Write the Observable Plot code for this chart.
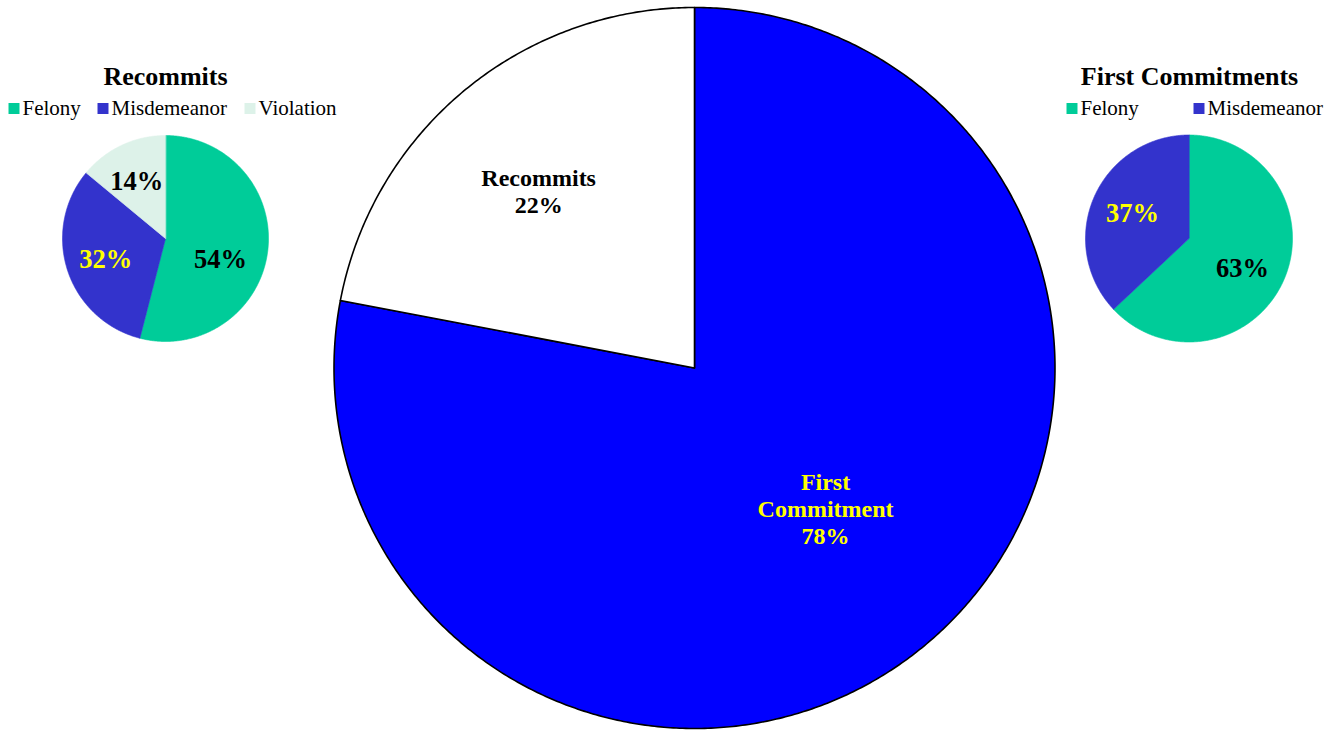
<!DOCTYPE html>
<html><head><meta charset="utf-8">
<script src="https://cdn.jsdelivr.net/npm/d3@7"></script>
<script src="https://cdn.jsdelivr.net/npm/@observablehq/plot@0.6"></script>
<style>body{margin:0;background:#fff} #chart{width:1340px;height:730px}</style>
</head><body><div id="chart"></div>
<script>
// ---- data ----
const mainCategories = ["First Commitment", "Recommits"];
const mainValues = [78, 22];
const recommitCategories = ["Felony", "Misdemeanor", "Violation"];
const recommitValues = [54, 32, 14];
const firstCategories = ["Felony", "Misdemeanor"];
const firstValues = [63, 37];
const recommitTitle = "Recommits";
const firstTitle = "First Commitments";

// ---- styles / layout ----
const FONT = "'Liberation Serif', 'Times New Roman', serif";
const mainColors = {"First Commitment": "#0000FF", "Recommits": "#FFFFFF"};
const mainLabelColors = {"First Commitment": "#FFFF00", "Recommits": "#000000"};
const typeColors = {Felony: "#00CC99", Misdemeanor: "#3333CC", Violation: "#DDF2E9"};
const typeLabelColors = {Felony: "#000000", Misdemeanor: "#FFFF00", Violation: "#000000"};

// label placement: fraction of radius, and angular nudge (degrees) from slice mid-angle
const pies = [
  {name: "main", cats: mainCategories, vals: mainValues, cx: 694, cy: 367.5, r: 360.5,
   colors: mainColors, labelColors: mainLabelColors, stroke: "#000", strokeWidth: 1.6,
   labelR: {"First Commitment": 0.533, "Recommits": 0.655},
   labelShift: {"First Commitment": -3.4, "Recommits": -1.7}, fontSize: 24, showName: true},
  {name: "rec", cats: recommitCategories, vals: recommitValues, cx: 165, cy: 238, r: 103,
   colors: typeColors, labelColors: typeLabelColors, stroke: null, strokeWidth: 0.6,
   labelR: {Felony: 0.568, Misdemeanor: 0.61, Violation: 0.63},
   labelShift: {Felony: 12.8, Misdemeanor: 0, Violation: -1}, fontSize: 26.5, showName: false},
  {name: "first", cats: firstCategories, vals: firstValues, cx: 1188.5, cy: 238, r: 103.5,
   colors: typeColors, labelColors: typeLabelColors, stroke: null, strokeWidth: 0.6,
   labelR: {Felony: 0.588, Misdemeanor: 0.60},
   labelShift: {Felony: 5, Misdemeanor: 1.3}, fontSize: 26.5, showName: false}
];

const polys = [];
const labels = [];
for (const p of pies) {
  const arcs = d3.pie().sort(null).value(d => d)(p.vals);
  arcs.forEach((a, i) => {
    const cat = p.cats[i];
    const id = p.name + ":" + cat;
    const fill = p.colors[cat];
    const stroke = p.stroke || fill;
    polys.push({id, x: p.cx, y: p.cy, fill, stroke});
    const n = Math.max(2, Math.ceil((a.endAngle - a.startAngle) / (Math.PI / 360)));
    for (let k = 0; k <= n; k++) {
      const t = a.startAngle + (a.endAngle - a.startAngle) * k / n;
      polys.push({id, x: p.cx + p.r * Math.sin(t), y: p.cy - p.r * Math.cos(t), fill, stroke});
    }
    const mid = (a.startAngle + a.endAngle) / 2 + (p.labelShift[cat] || 0) * Math.PI / 180;
    const lr = p.r * p.labelR[cat];
    labels.push({
      x: p.cx + lr * Math.sin(mid), y: p.cy - lr * Math.cos(mid),
      text: (p.showName ? cat.replace(" ", "\n") + "\n" : "") + p.vals[i] + "%",
      color: p.labelColors[cat], size: p.fontSize
    });
  });
}

const titles = [
  {x: 165, y: 76, text: recommitTitle},
  {x: 1189, y: 76, text: firstTitle}
];
const legendItems = [
  ...recommitCategories.map((c, i) => ({cat: c, x: [13.5, 102.5, 249.5][i], y: 108})),
  ...firstCategories.map((c, i) => ({cat: c, x: [1071.5, 1198.5][i], y: 108}))
];

const chart = Plot.plot({
  width: 1340, height: 730, margin: 0,
  x: {domain: [0, 1340], range: [0, 1340], axis: null},
  y: {domain: [0, 730], range: [0, 730], axis: null},
  style: {fontFamily: FONT, background: "#fff"},
  marks: [
    Plot.line(polys.filter(d => !d.id.startsWith("main")), {
      x: "x", y: "y", z: "id", fill: "fill", stroke: "stroke", strokeWidth: 0.6,
      curve: "linear-closed"
    }),
    Plot.line(polys.filter(d => d.id.startsWith("main")), {
      x: "x", y: "y", z: "id", fill: "fill", stroke: "#000", strokeWidth: 1.6,
      strokeLinejoin: "round", curve: "linear-closed"
    }),
    ...[24, 26.5].map(fs => Plot.text(labels.filter(d => d.size === fs), {
      x: "x", y: "y", text: "text", fill: "color", fontSize: fs, fontWeight: "bold",
      fontFamily: FONT, lineHeight: 1.13
    })),
    Plot.text(titles, {x: "x", y: "y", text: "text", fontSize: 26, fontWeight: "bold", fill: "#000", fontFamily: FONT}),
    Plot.dot(legendItems, {x: "x", y: "y", symbol: "square", r: 6.2, fill: d => typeColors[d.cat], stroke: null}),
    Plot.text(legendItems, {x: d => d.x + 8.5, y: "y", text: "cat", textAnchor: "start", fontSize: 21, fill: "#000", fontFamily: FONT})
  ]
});
document.getElementById("chart").append(chart);
</script>
</body></html>
